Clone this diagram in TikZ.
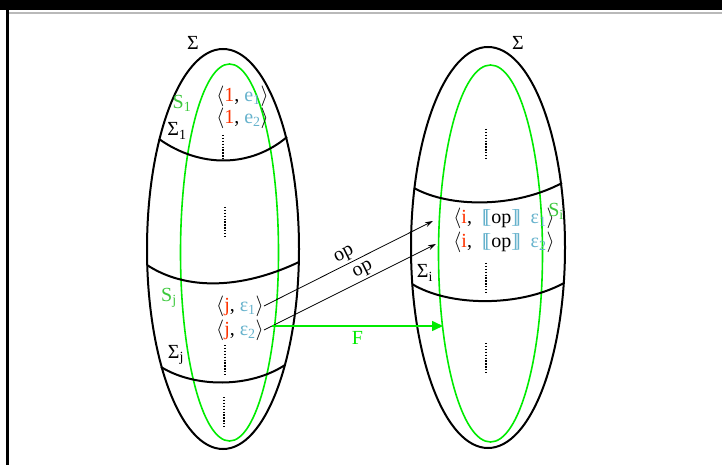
\documentclass[tikz,border=0pt]{standalone}
\usepackage{fontspec}
\setmainfont{Liberation Serif}
\usetikzlibrary{arrows.meta}
\definecolor{myred}{RGB}{255,51,0}
\definecolor{myblue}{RGB}{102,178,204}
\definecolor{mygreen}{RGB}{0,235,0}
\definecolor{lblgreen}{RGB}{60,200,60}
\newcommand{\lb}{\textcolor{myblue}{[\kern-.2em[}}
\newcommand{\rb}{\textcolor{myblue}{]\kern-.2em]}}
\tikzset{
  lbl/.style={inner sep=0pt, font=\fontsize{20bp}{23bp}\selectfont},
  outer/.style={draw=black, line width=2bp},
  inner/.style={draw=mygreen, line width=1.6bp},
  cut/.style={draw=black, line width=2bp},
  dots/.style={draw=black, line width=2.2bp, dash pattern=on 1.3bp off 1.6bp},
  oparrow/.style={draw=black, line width=0.8bp, -{Stealth[length=8bp,width=5bp]}},
  farrow/.style={draw=mygreen, line width=1.6bp, -{Triangle[length=11bp,width=10bp]}},
}
\begin{document}
\begin{tikzpicture}[x=1bp,y=-1bp]
\useasboundingbox (0,0) rectangle (722,465);
% frame
\fill[black] (0,0) rectangle (722,10);
\fill[black] (5.5,0) rectangle (8.5,465);
\fill[gray!55] (8.5,12.5) rectangle (722,14.5);
% left ellipses
\draw[outer] (223,249) ellipse [x radius=76, y radius=200];
\draw[inner] (229.5,252.5) ellipse [x radius=49, y radius=188.5];
% right ellipses
\draw[outer] (488,247.5) ellipse [x radius=77, y radius=200.5];
\draw[inner] (490.5,253.5) ellipse [x radius=52, y radius=188.5];
% cut curves left
\draw[cut] (159,139) .. controls (200,168) and (250,168) .. (287,137);
\draw[cut] (147,265) .. controls (185,290) and (240,290) .. (299,262);
\draw[cut] (161,367) .. controls (195,388) and (250,388) .. (285,365);
% cut curves right
\draw[cut] (414,188) .. controls (450,208) and (515,208) .. (562,183);
\draw[cut] (412,284) .. controls (450,307) and (520,307) .. (564,283);
% dotted lines
\draw[dots] (223,135) -- (223,159);
\draw[dots] (225,207) -- (225,238);
\draw[dots] (225,345) -- (225,376);
\draw[dots] (224,397) -- (224,428);
\draw[dots] (486,129) -- (486,160);
\draw[dots] (486,263) -- (486,294);
\draw[dots] (486,343) -- (486,374);
% labels
\node[lbl] (sigL) at (193,43) {Σ};
\node[lbl] (sigR) at (518,43) {Σ};
\node[lbl, text=lblgreen] (s1) at (182,103) {S\textsubscript{1}};
\node[lbl] (sig1) at (177,131) {Σ\textsubscript{1}};
\node[lbl] (e1) at (242.5,96) {$\langle$\textcolor{myred}{1}, \textcolor{myblue}{e\textsubscript{1}}$\rangle$};
\node[lbl] (e2) at (242.5,118) {$\langle$\textcolor{myred}{1}, \textcolor{myblue}{e\textsubscript{2}}$\rangle$};
\node[lbl, text=lblgreen] (sj) at (169,298) {S\textsubscript{j}};
\node[lbl] (sigj) at (176,355) {Σ\textsubscript{j}};
\node[lbl] (je1) at (240,306) {$\langle$\textcolor{myred}{j}, \textcolor{myblue}{ε\textsubscript{1}}$\rangle$};
\node[lbl] (je2) at (240,330) {$\langle$\textcolor{myred}{j}, \textcolor{myblue}{ε\textsubscript{2}}$\rangle$};
\node[lbl] (ie1) at (504,218) {$\langle$\textcolor{myred}{i},\ \ \lb op\rb\ \ \textcolor{myblue}{ε\textsubscript{1}}$\rangle$};
\node[lbl] (ie2) at (504,242) {$\langle$\textcolor{myred}{i},\ \ \lb op\rb\ \ \textcolor{myblue}{ε\textsubscript{2}}$\rangle$};
\node[lbl, text=lblgreen] (si) at (556,211) {S\textsubscript{i}};
\node[lbl] (sigi) at (425,273) {Σ\textsubscript{i}};
% arrows
\coordinate (t1) at (433,221);
\coordinate (t2) at (436,244);
\coordinate (fs) at (272,326);
\coordinate (ft) at (443,326);
\draw[oparrow] (je1.east) -- node[lbl, above, sloped, pos=0.5, inner sep=1.5bp] (op1) {op} (t1);
\draw[oparrow] (je2.east) -- node[lbl, above, sloped, pos=0.6, inner sep=1.5bp] (op2) {op} (t2);
\draw[farrow] (fs) -- node[lbl, below=5bp, text=mygreen] (F) {F} (ft);
\end{tikzpicture}
\end{document}
